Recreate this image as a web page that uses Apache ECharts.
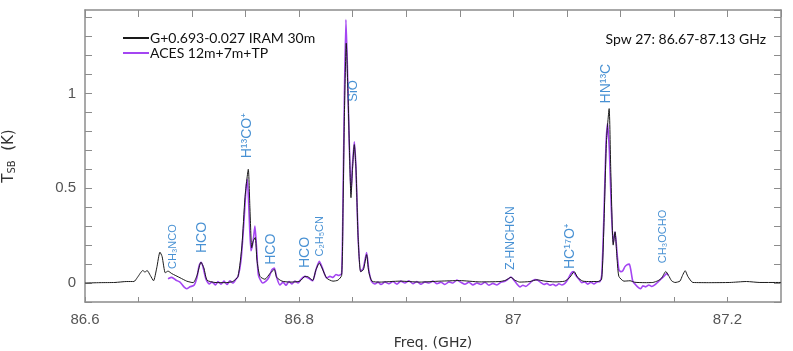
<!DOCTYPE html>
<html>
<head>
<meta charset="utf-8">
<script src="https://cdn.jsdelivr.net/npm/echarts@6/dist/echarts.min.js"></script>
<style>
  html, body { margin: 0; padding: 0; background: #fff; }
  #chart { width: 793px; height: 351px; }
</style>
</head>
<body>
<div id="chart"></div>
<script>
// IRAM 30m spectrum (GHz, K)
var iramFreq = [86.600, 86.614, 86.628, 86.639, 86.6457, 86.649, 86.654, 86.656, 86.658, 86.661,
  86.664, 86.667, 86.670, 86.672, 86.675, 86.6775, 86.681, 86.6887, 86.695, 86.701,
  86.7046, 86.7083, 86.711, 86.714, 86.7214, 86.731, 86.738, 86.7429, 86.7466, 86.7494,
  86.7525, 86.754, 86.7557, 86.757, 86.759, 86.7606, 86.7634, 86.768, 86.7727, 86.7768,
  86.779, 86.784, 86.7914, 86.8007, 86.8054, 86.808, 86.8126, 86.8157, 86.8188, 86.8213,
  86.8257, 86.8316, 86.8362, 86.8397, 86.841, 86.8423, 86.844, 86.8456, 86.847, 86.8484,
  86.8498, 86.8515, 86.8531, 86.855, 86.8574, 86.860, 86.863, 86.865, 86.868, 86.8754,
  86.894, 86.9128, 86.9315, 86.950, 86.9688, 86.9875, 86.993, 86.9978, 87.0015, 87.006,
  87.0155, 87.022, 87.0295, 87.0389, 87.048, 87.0528, 87.0569, 87.060, 87.065, 87.0715,
  87.079, 87.0825, 87.0846, 87.087, 87.0895, 87.091, 87.0933, 87.095, 87.097, 87.0986,
  87.1033, 87.109, 87.1135, 87.1229, 87.1303, 87.135, 87.1385, 87.1424, 87.145, 87.1478,
  87.151, 87.1556, 87.158, 87.1605, 87.163, 87.1677, 87.1836, 87.2022, 87.2178, 87.2303, 87.25];
var iramT = [0.000, 0.002, 0.003, 0.008, 0.008, 0.030, 0.066, 0.058, 0.066, 0.040,
  0.012, 0.080, 0.163, 0.140, 0.054, 0.063, 0.050, 0.028, 0.010, 0.002,
  0.040, 0.110, 0.080, 0.015, 0.003, 0.002, 0.008, 0.035, 0.200, 0.450,
  0.600, 0.400, 0.186, 0.220, 0.240, 0.120, 0.035, 0.020, 0.050, 0.072,
  0.030, 0.010, 0.005, 0.010, 0.035, 0.034, 0.014, 0.070, 0.105, 0.080,
  0.026, 0.010, 0.015, 0.040, 0.400, 0.900, 1.265, 1.000, 0.700, 0.450,
  0.600, 0.730, 0.600, 0.250, 0.060, 0.070, 0.150, 0.060, 0.010, 0.005,
  0.010, 0.005, 0.010, 0.013, 0.006, 0.008, 0.015, 0.030, 0.015, 0.005,
  0.008, 0.017, 0.010, 0.006, 0.010, 0.030, 0.060, 0.030, 0.010, 0.008,
  0.008, 0.020, 0.300, 0.750, 0.920, 0.600, 0.200, 0.270, 0.120, 0.035,
  0.010, 0.012, 0.004, 0.002, 0.003, 0.012, 0.026, 0.061, 0.040, 0.012,
  0.003, 0.010, 0.040, 0.065, 0.035, 0.003, 0.002, 0.003, 0.008, 0.003, 0.003];

// ACES 12m+7m+TP spectrum (GHz, K)
var acesFreq = [86.6775, 86.681, 86.685, 86.6887, 86.6924, 86.695, 86.698, 86.7018, 86.7046, 86.7065,
  86.7083, 86.710, 86.713, 86.716, 86.7186, 86.722, 86.7242, 86.727, 86.7298, 86.7326,
  86.7354, 86.738, 86.741, 86.743, 86.7457, 86.7485, 86.7504, 86.7516, 86.753, 86.755,
  86.757, 86.7587, 86.7606, 86.762, 86.766, 86.769, 86.7718, 86.7746, 86.7768, 86.779,
  86.782, 86.785, 86.7877, 86.7905, 86.7933, 86.796, 86.799, 86.8017, 86.8054, 86.809,
  86.8126, 86.8157, 86.8188, 86.8213, 86.8257, 86.8288, 86.8316, 86.8344, 86.837, 86.8397,
  86.841, 86.8423, 86.8437, 86.845, 86.8465, 86.8484, 86.8498, 86.8515, 86.8531, 86.855,
  86.8574, 86.860, 86.863, 86.865, 86.8676, 86.8708, 86.8736, 86.8764, 86.8801, 86.8838,
  86.8876, 86.8913, 86.8950, 86.8988, 86.9025, 86.9063, 86.9100, 86.9137, 86.9175, 86.9212,
  86.9249, 86.9287, 86.9324, 86.9361, 86.9399, 86.9436, 86.9473, 86.9511, 86.9548, 86.9585,
  86.9623, 86.9660, 86.9697, 86.9735, 86.9772, 86.9809, 86.9847, 86.9884, 86.9922, 86.995,
  86.9978, 87.0006, 87.0034, 87.0062, 87.009, 87.0118, 87.0146, 87.0174, 87.0202, 87.023,
  87.0258, 87.0286, 87.0314, 87.0342, 87.037, 87.0398, 87.0426, 87.0454, 87.0482, 87.051,
  87.0538, 87.056, 87.0585, 87.0613, 87.064, 87.0668, 87.0697, 87.0725, 87.0753, 87.0781,
  87.0809, 87.0827, 87.0846, 87.0865, 87.088, 87.0897, 87.0915, 87.0933, 87.095, 87.097,
  87.0986, 87.1004, 87.1023, 87.1041, 87.106, 87.1083, 87.1097, 87.1116, 87.1144, 87.1172,
  87.119, 87.121, 87.1237, 87.1265, 87.1293, 87.1321, 87.135, 87.1377, 87.1405, 87.1433, 87.1446];
var acesT = [0.023, 0.030, 0.015, 0.005, -0.020, -0.030, -0.020, -0.012, 0.030, 0.090,
  0.110, 0.090, 0.020, -0.005, 0.005, -0.010, 0.008, -0.006, 0.010, -0.008,
  0.012, 0.000, 0.020, 0.035, 0.120, 0.330, 0.500, 0.547, 0.400, 0.170,
  0.220, 0.300, 0.150, 0.040, 0.000, 0.010, 0.030, 0.070, 0.079, 0.030,
  -0.010, 0.005, -0.012, 0.008, -0.005, 0.010, 0.000, 0.020, 0.035, 0.025,
  0.012, 0.070, 0.114, 0.085, 0.026, 0.035, 0.030, 0.045, 0.040, 0.050,
  0.450, 1.000, 1.389, 1.150, 0.800, 0.477, 0.620, 0.745, 0.600, 0.250,
  0.061, 0.080, 0.161, 0.070, 0.008, -0.005, 0.005, -0.008, 0.006, -0.004,
  0.008, -0.006, 0.010, 0.000, 0.012, -0.004, 0.008, -0.006, 0.006, 0.000,
  0.010, -0.004, 0.004, -0.008, 0.006, 0.000, 0.016, 0.004, -0.006, 0.004,
  -0.010, 0.000, -0.008, 0.004, -0.012, -0.002, -0.010, 0.004, 0.010, 0.020,
  0.032, 0.015, -0.005, -0.020, -0.012, -0.018, -0.005, 0.010, 0.018, 0.015,
  0.002, -0.008, -0.002, -0.012, -0.006, -0.014, -0.004, -0.010, -0.002, 0.020,
  0.050, 0.060, 0.040, 0.020, 0.002, 0.006, -0.006, 0.004, -0.005, 0.006,
  0.008, 0.050, 0.350, 0.720, 0.842, 0.700, 0.400, 0.210, 0.270, 0.150,
  0.070, 0.060, 0.065, 0.085, 0.096, 0.100, 0.070, 0.010, -0.010, -0.025,
  -0.030, -0.015, -0.020, -0.010, -0.018, -0.010, 0.005, 0.020, 0.035, 0.050, 0.040];

// line identifications: frequency (GHz) and label base height (K)
var lineNames = ['CH₃NCO', 'HCO', 'H¹³CO⁺', 'HCO', 'HCO', 'C₂H₅CN', 'SiO', 'Z-HNCHCN', 'HC¹⁷O⁺', 'HN¹³C', 'CH₃OCHO'];
var lineFreq = [86.682, 86.709, 86.751, 86.774, 86.806, 86.819, 86.851, 86.998, 87.053, 87.087, 87.140];
var lineBase = [0.074, 0.158, 0.658, 0.096, 0.079, 0.140, 0.956, 0.070, 0.074, 0.947, 0.105];
var lineFont = [11, 14, 14, 14, 14, 11, 13, 12, 14, 14, 11];

var xTicks = [86.6, 86.8, 87, 87.2];
var yTicks = [0, 0.5, 1];

var chart = echarts.init(document.getElementById('chart'));

function pairs(xs, ys) {
  return xs.map(function (x, i) { return [x, ys[i]]; });
}
function isTick(v, list) {
  return list.some(function (t) { return Math.abs(v - t) < 1e-6; });
}

var axisColor = '#8c8c8c';
var tickLabelStyle = { color: '#555', fontSize: 15, fontFamily: 'Liberation Sans, Arial, sans-serif' };

chart.setOption({
  animation: false,
  grid: { left: 85, right: 12, top: 10, bottom: 49, outerBoundsMode: 'none', containLabel: false },
  legend: {
    data: ['G+0.693-0.027 IRAM 30m', 'ACES 12m+7m+TP'],
    orient: 'vertical',
    left: 118,
    top: 26,
    itemWidth: 26,
    itemHeight: 2,
    itemGap: 1,
    icon: 'rect',
    textStyle: { fontSize: 14, fontFamily: 'Lato, sans-serif', color: '#111', padding: [0, 0, 0, -4] }
  },
  xAxis: [
    {
      type: 'value', min: 86.6, max: 87.25, interval: 0.05,
      name: 'Freq. (GHz)', nameLocation: 'middle', nameGap: 34,
      nameTextStyle: { fontSize: 14, color: '#333', fontFamily: 'DejaVu Sans, sans-serif' },
      axisLine: { onZero: false, lineStyle: { color: axisColor, width: 1.5 } },
      axisTick: { inside: true, length: 5, lineStyle: { color: axisColor } },
      splitLine: { show: false },
      axisLabel: Object.assign({
        margin: 10,
        showMaxLabel: false,
        formatter: function (v) { return isTick(v, xTicks) ? String(Math.round(v * 10) / 10) : ''; }
      }, tickLabelStyle)
    },
    {
      type: 'value', min: 86.6, max: 87.25, interval: 0.05, position: 'top',
      axisLine: { onZero: false, lineStyle: { color: axisColor, width: 1.5 } },
      axisTick: { inside: true, length: 7, lineStyle: { color: axisColor } },
      axisLabel: { show: false }, splitLine: { show: false }
    }
  ],
  yAxis: [
    {
      type: 'value', min: -0.1, max: 1.44, interval: 0.1,
      name: '{a|T}{b|SB}{a|  (K)}', nameLocation: 'middle', nameRotate: 90, nameGap: 68,
      nameTextStyle: {
        color: '#333',
        rich: {
          a: { fontSize: 15, fontFamily: 'DejaVu Sans, sans-serif', color: '#333' },
          b: { fontSize: 10, fontFamily: 'DejaVu Sans, sans-serif', color: '#333', verticalAlign: 'bottom', padding: [6, 0, 0, 0] }
        }
      },
      axisLine: { show: true, onZero: false, lineStyle: { color: axisColor, width: 1.5 } },
      axisTick: { show: true, inside: true, length: 7, lineStyle: { color: axisColor } },
      splitLine: { show: false },
      axisLabel: Object.assign({
        margin: 9,
        showMaxLabel: false,
        formatter: function (v) { return isTick(v, yTicks) ? String(Math.round(v * 10) / 10) : ''; }
      }, tickLabelStyle)
    },
    {
      type: 'value', min: -0.1, max: 1.44, interval: 0.1, position: 'right',
      axisLine: { show: true, onZero: false, lineStyle: { color: axisColor, width: 1.5 } },
      axisTick: { show: true, inside: true, length: 7, lineStyle: { color: axisColor } },
      axisLabel: { show: false }, splitLine: { show: false }
    }
  ],
  graphic: [{
    type: 'text', right: 27, top: 32,
    style: { text: 'Spw 27: 86.67-87.13 GHz', fontSize: 14, fontFamily: 'Lato, sans-serif', fill: '#111' }
  }],
  series: [
    {
      name: 'ACES 12m+7m+TP', type: 'line', data: pairs(acesFreq, acesT),
      showSymbol: false, symbol: 'none', smooth: 0.2,
      lineStyle: { color: '#a445f2', width: 1.6 }, itemStyle: { color: '#a445f2' }, z: 2
    },
    {
      name: 'G+0.693-0.027 IRAM 30m', type: 'line', data: pairs(iramFreq, iramT),
      showSymbol: false, symbol: 'none', smooth: 0.2,
      lineStyle: { color: '#1a1a1a', width: 1 }, itemStyle: { color: '#1a1a1a' }, z: 3
    },
    {
      name: 'labels', type: 'scatter', symbolSize: 0, z: 4, silent: true,
      data: lineNames.map(function (n, i) {
        return {
          value: [lineFreq[i], lineBase[i]],
          label: { fontSize: lineFont[i] }
        };
      }),
      label: {
        show: true, position: 'inside', rotate: 90, align: 'left', verticalAlign: 'middle',
        color: '#1a76c8', fontFamily: 'Liberation Sans, Noto Sans, DejaVu Sans, sans-serif',
        formatter: function (p) { return lineNames[p.dataIndex]; }
      }
    }
  ]
});
</script>
</body>
</html>
